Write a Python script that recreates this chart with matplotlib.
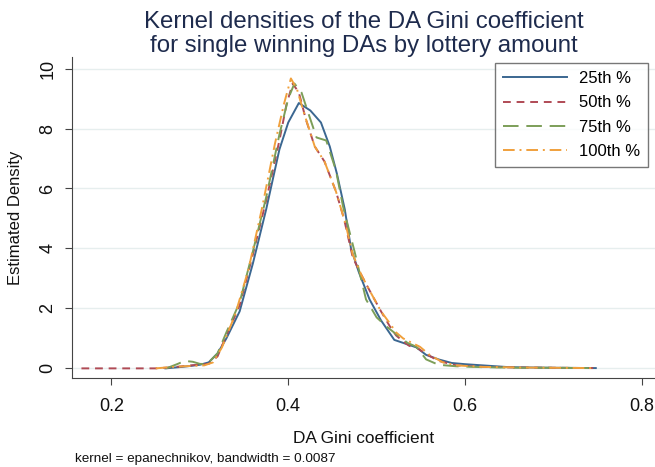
import matplotlib
matplotlib.use("Agg")
import matplotlib.pyplot as plt

plt.rcParams['font.family'] = ['Liberation Sans', 'DejaVu Sans']

# density curves
x25 = [0.261, 0.28, 0.30, 0.31, 0.32, 0.33, 0.345, 0.36, 0.375, 0.39, 0.40, 0.412, 0.425,
       0.437, 0.447, 0.455, 0.464, 0.471, 0.48, 0.492, 0.505, 0.52, 0.535, 0.545, 0.556,
       0.57, 0.585, 0.60, 0.62, 0.65, 0.70, 0.748]
y25 = [0.0, 0.05, 0.12, 0.2, 0.5, 1.0, 1.9, 3.5, 5.3, 7.3, 8.2, 8.85, 8.6,
       8.2, 7.4, 6.5, 5.3, 4.0, 3.2, 2.3, 1.6, 0.95, 0.8, 0.7, 0.45,
       0.3, 0.18, 0.14, 0.1, 0.04, 0.02, 0.01]

x50 = [0.166, 0.25, 0.27, 0.29, 0.31, 0.32, 0.33, 0.345, 0.36, 0.375, 0.39, 0.398, 0.405,
       0.412, 0.42, 0.43, 0.441, 0.454, 0.463, 0.473, 0.483, 0.492, 0.505, 0.515, 0.522,
       0.53, 0.537, 0.545, 0.555, 0.57, 0.59, 0.62, 0.66, 0.70, 0.745]
y50 = [0.0, 0.0, 0.04, 0.1, 0.15, 0.4, 1.1, 2.1, 3.8, 5.6, 7.6, 8.8, 9.5,
       9.2, 8.3, 7.4, 6.9, 5.9, 5.0, 3.7, 3.1, 2.6, 1.9, 1.4, 1.1,
       0.9, 0.75, 0.7, 0.5, 0.25, 0.1, 0.05, 0.03, 0.02, 0.01]

x75 = [0.262, 0.275, 0.283, 0.292, 0.30, 0.308, 0.32, 0.33, 0.345, 0.36, 0.375, 0.39, 0.40,
       0.407, 0.415, 0.424, 0.432, 0.443, 0.454, 0.462, 0.475, 0.488, 0.50, 0.511, 0.524,
       0.535, 0.545, 0.556, 0.57, 0.59, 0.62, 0.66, 0.70, 0.74]
y75 = [0.0, 0.15, 0.25, 0.22, 0.15, 0.14, 0.5, 1.2, 2.2, 3.9, 5.7, 7.8, 9.0,
       9.5, 9.2, 8.4, 7.7, 7.6, 6.6, 5.4, 3.9, 2.3, 1.7, 1.4, 1.1,
       0.85, 0.72, 0.3, 0.12, 0.07, 0.04, 0.02, 0.02, 0.01]

x100 = [0.25, 0.27, 0.29, 0.305, 0.315, 0.325, 0.34, 0.355, 0.37, 0.385, 0.395, 0.403, 0.41,
        0.418, 0.43, 0.441, 0.454, 0.465, 0.473, 0.483, 0.492, 0.505, 0.515, 0.522, 0.53,
        0.54, 0.549, 0.56, 0.575, 0.59, 0.62, 0.66, 0.70, 0.745]
y100 = [0.0, 0.05, 0.08, 0.1, 0.2, 0.7, 1.8, 3.3, 5.3, 7.5, 8.8, 9.67, 9.3,
        8.5, 7.4, 6.9, 5.9, 4.8, 3.8, 3.1, 2.6, 1.9, 1.5, 1.2, 1.0,
        0.85, 0.72, 0.45, 0.2, 0.1, 0.05, 0.03, 0.02, 0.01]

labels = ["25th %", "50th %", "75th %", "100th %"]
xticks = [0.2, 0.4, 0.6, 0.8]
yticks = [0, 2, 4, 6, 8, 10]

fig = plt.figure(figsize=(6.55, 4.67), dpi=100)
ax = fig.add_axes([0.1095, 0.19, 0.8905, 0.687])

ax.plot(x25, y25, color="#3b6791", lw=1.4, label=labels[0])
ax.plot(x50, y50, color="#b04a55", lw=1.4, ls=(0, (4, 3)), label=labels[1])
ax.plot(x75, y75, color="#7c9e58", lw=1.4, ls=(0, (8, 4)), label=labels[2])
ax.plot(x100, y100, color="#f0a03c", lw=1.4, ls=(0, (6, 2.5, 1, 2.5)), label=labels[3])

ax.set_xlim(0.155, 0.815)
ax.set_ylim(-0.33, 10.37)
ax.set_xticks(xticks)
ax.set_xticklabels([str(t) for t in xticks])
ax.set_yticks(yticks)
ax.set_yticklabels([str(t) for t in yticks], rotation=90, va="center")
ax.tick_params(labelsize=13, length=5, color="#444444", labelcolor="#111111")
ax.tick_params(axis="x", pad=9)
ax.tick_params(axis="y", pad=6)
ax.grid(axis="y", color="#e6eeee", lw=1)
ax.set_axisbelow(True)
for s in ["top", "right"]:
    ax.spines[s].set_visible(False)
for s in ["left", "bottom"]:
    ax.spines[s].set_color("#444444")

ax.set_xlabel("DA Gini coefficient", fontsize=12.4, color="#111111", labelpad=12)
ax.set_ylabel("Estimated Density", fontsize=12, color="#111111", labelpad=12)
ax.set_title("Kernel densities of the DA Gini coefficient\nfor single winning DAs by lottery amount",
             fontsize=17.3, color="#1e2b4d", linespacing=1.12, pad=3)

leg = ax.legend(loc="upper right", bbox_to_anchor=(0.988, 0.983), fontsize=12,
                frameon=True, fancybox=False, handlelength=3.8, handletextpad=0.72,
                borderpad=0.5, labelspacing=0.55, borderaxespad=0)
leg.get_frame().set_edgecolor("#555555")
leg.get_frame().set_linewidth(1.0)

fig.text(0.115, 0.01, "kernel = epanechnikov, bandwidth = 0.0087", fontsize=9.7, color="#111111")

fig.savefig("out.png", dpi=100)
